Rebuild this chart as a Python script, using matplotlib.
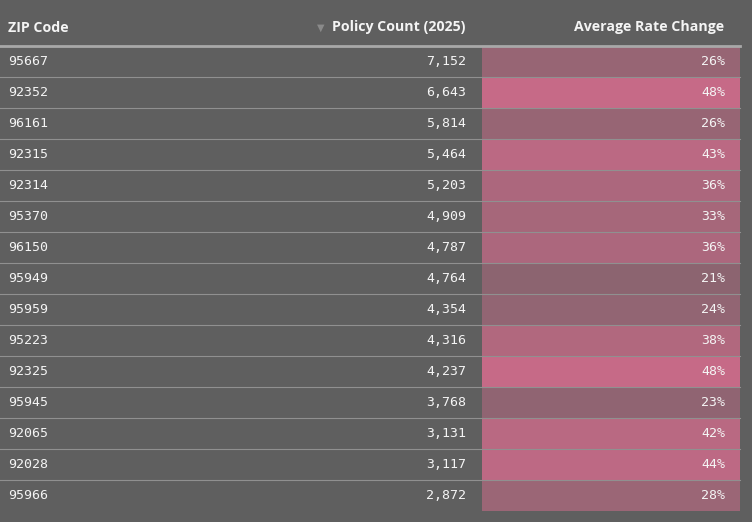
import matplotlib
matplotlib.use("Agg")
import matplotlib.pyplot as plt
import numpy as np
from matplotlib.colors import to_rgb

zips = ["95667","92352","96161","92315","92314","95370","96150","95949","95959","95223","92325","95945","92065","92028","95966"]
counts = [7152,6643,5814,5464,5203,4909,4787,4764,4354,4316,4237,3768,3131,3117,2872]
rates = [26,48,26,43,36,33,36,21,24,38,48,23,42,44,28]
headers = ["ZIP Code", "Policy Count (2025)", "Average Rate Change"]

bg = "#5f5f5f"
fig = plt.figure(figsize=(7.52, 5.22), dpi=100, facecolor=bg)
ax = fig.add_axes([0, 0, 1, 1])
ax.set_facecolor(bg)
ax.set_xlim(0, 752); ax.set_ylim(522, 0); ax.axis("off")

lo, hi = np.array(to_rgb("#8c6470")), np.array(to_rgb("#c66a87"))
top, rh = 45.5, 31.0
txt = "#f4f4f4"
hf = dict(family=["Open Sans", "DejaVu Sans"], fontweight="bold", fontsize=10.2, color=txt, va="center")
ax.text(8, 27.5, headers[0], ha="left", **hf)
ax.text(466, 27.5, headers[1], ha="right", **hf)
ax.text(317, 27.5, "▼", ha="left", va="center", fontsize=7, color="#8a8a8a")
ax.text(724, 27.5, headers[2], ha="right", **hf)
ax.plot([0, 740], [top, top], color="#a8a8a8", lw=2)

vf = dict(family="DejaVu Sans Mono", fontsize=9.5, color=txt, va="center")
for i, (z, c, r) in enumerate(zip(zips, counts, rates)):
    y0 = top + i * rh
    t = (r - 21) / (48 - 21)
    col = lo + (hi - lo) * t
    ax.add_patch(plt.Rectangle((482, y0 + 0.5), 258, rh - 0.5, color=col, lw=0))
    yc = y0 + rh / 2 + 0.5
    ax.text(8, yc, z, ha="left", **vf)
    ax.text(466, yc, f"{c:,}", ha="right", **vf)
    ax.text(725, yc, f"{r}%", ha="right", **vf)
    if i < len(zips) - 1:
        ax.plot([0, 740], [y0 + rh, y0 + rh], color="#909090", lw=0.8)

fig.savefig("out.png", dpi=100, facecolor=bg)
